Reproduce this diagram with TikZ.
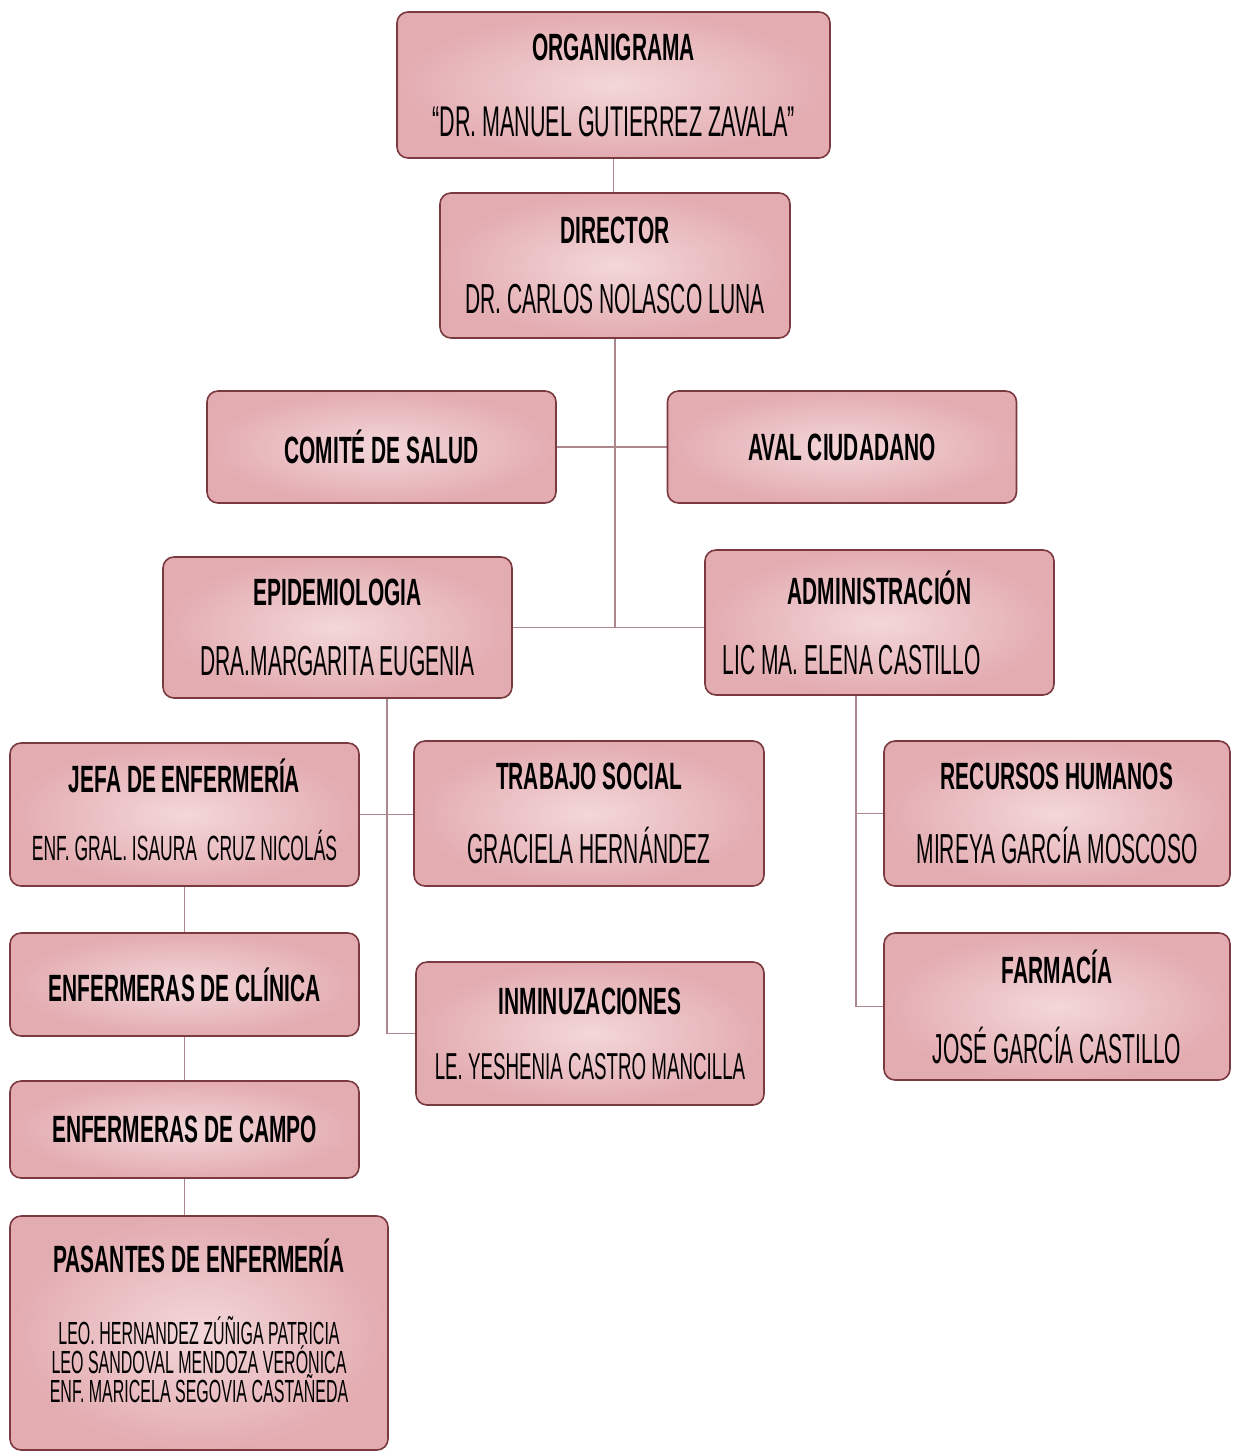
\documentclass[tikz,border=0pt]{standalone}
\usepackage{fontspec}
\setmainfont{Liberation Sans}[FakeStretch=0.5, BoldFeatures={FakeStretch=0.55}]
\usetikzlibrary{positioning,calc,backgrounds}

\definecolor{boxin}{RGB}{243,215,217}
\definecolor{boxout}{RGB}{227,172,177}
\definecolor{boxedge}{RGB}{122,58,64}
\definecolor{linkcol}{RGB}{172,136,141}

\newcommand{\namefont}{\fontsize{42}{38}\selectfont}
\newcommand{\smallname}{\fontsize{35}{38}\selectfont}
\newcommand{\pasfont}{\fontsize{32}{38}\selectfont}

\begin{document}
\begin{tikzpicture}[
  x=1pt, y=-1pt,
  font=\fontsize{38}{38}\selectfont,
  box/.style={draw=boxedge, line width=1.6pt, rounded corners=11pt, inner color=boxin, outer color=boxout, align=center, minimum width=349pt, inner sep=0pt},
  link/.style={draw=linkcol, line width=1.3pt}
]
\useasboundingbox (0,0) rectangle (1237,1452);

% top of the chart
\node[box, minimum width=433pt, minimum height=146pt] (org) at (613.5,85) {
  \bfseries ORGANIGRAMA\\[38pt]
  {\mdseries\fontsize{43}{38}\selectfont “DR. MANUEL GUTIERREZ ZAVALA”}
};
\node[box, minimum width=350pt, minimum height=145pt] (dir) at (615,265.5) {
  \bfseries DIRECTOR\\[32pt]
  {\mdseries\namefont DR. CARLOS NOLASCO LUNA}
};
\node[box, minimum height=112pt] (com) at (381.5,447) {\bfseries COMITÉ DE SALUD};
\node[box, minimum height=112pt] (aval) at (842,447) {\bfseries AVAL CIUDADANO};

% second level
\node[box, minimum height=141pt] (epi) at (337.5,627.5) {
  \bfseries EPIDEMIOLOGIA\\[32pt]
  {\mdseries\namefont DRA.MARGARITA EUGENIA}
};
\node[box, minimum height=145pt] (adm) at (879.5,622.5) {
  \bfseries ADMINISTRACIÓN\\[32pt]
  {\mdseries\namefont LIC MA. ELENA CASTILLO\hspace*{56pt}}
};

% third level
\node[box, minimum height=143pt] (jefa) at (184.5,814.5) {
  \bfseries JEFA DE ENFERMERÍA\\[30pt]
  {\mdseries\smallname ENF. GRAL. ISAURA\ \ CRUZ NICOLÁS}\\[-28pt]
  \mbox{}
};
\node[box, minimum width=350pt, minimum height=145pt] (tra) at (589,813.5) {
  \bfseries TRABAJO SOCIAL\\[36pt]
  {\mdseries\namefont GRACIELA HERNÁNDEZ}
};
\node[box, minimum width=346pt, minimum height=145pt] (rec) at (1057,813.5) {
  \bfseries RECURSOS HUMANOS\\[36pt]
  {\mdseries\namefont MIREYA GARCÍA MOSCOSO}
};
\node[box, minimum height=103pt] (cli) at (184.5,984.5) {\bfseries ENFERMERAS DE CLÍNICA};
\node[box, minimum width=348pt, minimum height=143pt] (inm) at (590,1033.5) {
  \bfseries INMINUZACIONES\\[27pt]
  {\mdseries\fontsize{37.5}{38}\selectfont LE. YESHENIA CASTRO MANCILLA}
};
\node[box, minimum width=346pt, minimum height=147pt] (far) at (1057,1006.5) {
  \bfseries FARMACÍA\\[42pt]
  {\mdseries\namefont JOSÉ GARCÍA CASTILLO}
};
\node[box, minimum height=97pt] (cam) at (184.5,1129.5) {\bfseries ENFERMERAS DE CAMPO};
\node[box, minimum width=378pt, minimum height=234pt] (pas) at (199,1333) {
  \bfseries PASANTES DE ENFERMERÍA\\[34pt]
  {\mdseries\pasfont LEO. HERNANDEZ ZÚÑIGA PATRICIA}\\[-9pt]
  {\mdseries\pasfont LEO SANDOVAL MENDOZA VERÓNICA}\\[-9pt]
  {\mdseries\pasfont ENF. MARICELA SEGOVIA CASTAÑEDA}\\[-14pt]
  \mbox{}
};

\coordinate (epiout) at ([xshift=49.5pt]epi.south);
\coordinate (admout) at ([xshift=-23.5pt]adm.south);

\begin{scope}[on background layer]
\draw[link] (org.south) -- (org.south |- dir.north);
\draw[link] (dir.south) -- (dir.south |- epi.east);
\draw[link] (com.east) -- (aval.west);
\draw[link] (epi.east) -- (epi.east -| adm.west);
\draw[link] (epiout) |- (inm.west);
\draw[link] (jefa.east) -- (jefa.east -| tra.west);
\draw[link] (admout) |- (far.west);
\draw[link] (admout |- rec.west) -- (rec.west);
\draw[link] (jefa.south) -- (jefa.south |- cli.north);
\draw[link] (cli.south) -- (cli.south |- cam.north);
\draw[link] (cam.south) -- (cam.south |- pas.north);
\end{scope}

\end{tikzpicture}
\end{document}
